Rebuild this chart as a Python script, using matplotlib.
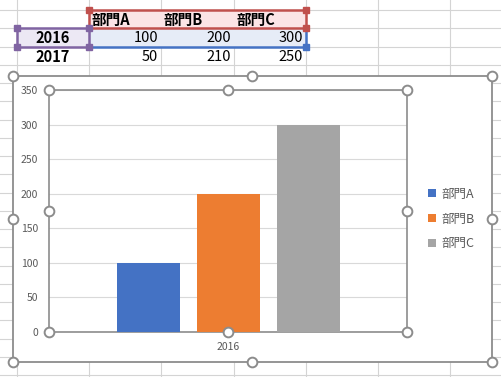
import matplotlib
matplotlib.use('Agg')
import matplotlib.pyplot as plt
from matplotlib.patches import Rectangle

plt.rcParams['font.family'] = ['Noto Sans CJK JP', 'DejaVu Sans']

departments = ['部門A', '部門B', '部門C']
years = ['2016', '2017']
values_2016 = [100, 200, 300]
values_2017 = [50, 210, 250]
bar_colors = ['#4472C4', '#ED7D31', '#A5A5A5']
y_ticks = [0, 50, 100, 150, 200, 250, 300, 350]

W, H = 501, 377
fig = plt.figure(figsize=(W / 100, H / 100), dpi=100)

# ---------- spreadsheet background ----------
bg = fig.add_axes([0, 0, 1, 1])
bg.set_xlim(0, W)
bg.set_ylim(H, 0)
bg.axis('off')

col_x = [17, 89, 161, 234, 306, 378, 450]
row_y = [10 + 18.25 * k for k in range(21)]
grid_c = '#D4D4D4'
for x in col_x:
    bg.plot([x, x], [0, H], color=grid_c, lw=0.8, zorder=1)
for y in row_y:
    bg.plot([0, W], [y, y], color=grid_c, lw=0.8, zorder=1)

# selection fills
bg.add_patch(Rectangle((89, 9.5), 217, 18.5, facecolor='#FBE4E6', edgecolor='none', zorder=2))
bg.add_patch(Rectangle((89, 28), 217, 19, facecolor='#E6ECF7', edgecolor='none', zorder=2))
bg.add_patch(Rectangle((17, 28), 72, 19, facecolor='#ECE8F4', edgecolor='none', zorder=2))

red_c, blue_c, pur_c = '#C0504D', '#4472C4', '#8064A2'
bg.add_patch(Rectangle((89, 9.5), 217, 18.5, facecolor='none', edgecolor=red_c, lw=1.8, zorder=3))
bg.plot([89, 306], [47, 47], color=blue_c, lw=1.8, zorder=3)
bg.plot([306, 306], [28, 47], color=blue_c, lw=1.8, zorder=3)
bg.add_patch(Rectangle((17, 28), 72, 19, facecolor='none', edgecolor=pur_c, lw=1.8, zorder=4))

for x, y in [(89, 9.5), (306, 9.5), (306, 28)]:
    bg.plot(x, y, marker='s', ms=4, color=red_c, zorder=5)
bg.plot(306, 47, marker='s', ms=4, color=blue_c, zorder=5)
for x, y in [(17, 28), (89, 28), (17, 47), (89, 47)]:
    bg.plot(x, y, marker='s', ms=4, color=pur_c, zorder=5)

# table text
txt_c = '#000000'
for i, d in enumerate(departments):
    bg.text(col_x[i + 1] + 3, 19.5, d, ha='left', va='center', fontsize=10.5,
            fontweight='bold', color=txt_c, zorder=6)
row_centers = [38, 57]
for yr, yc in zip(years, row_centers):
    bg.text(53, yc, yr, ha='center', va='center', fontsize=10.5,
            fontweight='bold', color=txt_c, zorder=6)
for vals, yc in zip([values_2016, values_2017], row_centers):
    for i, v in enumerate(vals):
        bg.text(col_x[i + 2] - 3, yc, str(v), ha='right', va='center',
                fontsize=10.5, color=txt_c, zorder=6)

# chart area
chart_edge = '#8C8C8C'
bg.add_patch(Rectangle((13, 76), 479, 286, facecolor='white', edgecolor=chart_edge,
                       lw=1.3, zorder=7))

# ---------- chart plot area ----------
px0, py0, px1, py1 = 49, 90, 407, 332
ax = fig.add_axes([px0 / W, (H - py1) / H, (px1 - px0) / W, (py1 - py0) / H], zorder=8)
ax.set_facecolor('none')
offsets = [-0.222, 0.002, 0.225]
width = 0.176
for i, d in enumerate(departments):
    ax.bar([offsets[i]], [values_2016[i]], width=width, color=bar_colors[i],
           label=d, zorder=3)
ax.set_xlim(-0.5, 0.5)
ax.set_ylim(0, 350)
ax.set_yticks(y_ticks)
ax.set_xticks([0])
ax.set_xticklabels([years[0]])
ax.yaxis.grid(True, color='#D9D9D9', lw=0.8, zorder=0)
ax.set_axisbelow(True)
ax.tick_params(axis='both', length=0, labelsize=7.5, labelcolor='#595959')
ax.tick_params(axis='y', pad=8)
ax.tick_params(axis='x', pad=7)
for s in ax.spines.values():
    s.set_color(chart_edge)
    s.set_linewidth(1.2)

ax.legend(loc='center left', bbox_to_anchor=(428 / W, (H - 219) / H),
          bbox_transform=fig.transFigure, frameon=False, fontsize=9,
          labelcolor='#595959', handlelength=0.65, handleheight=0.65,
          handletextpad=0.4, labelspacing=0.95, borderpad=0, borderaxespad=0)

# ---------- selection handles overlay ----------
ov = fig.add_axes([0, 0, 1, 1], zorder=10)
ov.set_facecolor('none')
ov.set_xlim(0, W)
ov.set_ylim(H, 0)
ov.axis('off')
outer = [(13, 76), (252, 76), (492, 76), (13, 219), (492, 219),
         (13, 362), (252, 362), (492, 362)]
inner = [(px0, py0), (228, py0), (px1, py0), (px0, 211), (px1, 211),
         (px0, py1), (228, py1), (px1, py1)]
for x, y in outer + inner:
    ov.plot(x, y, marker='o', ms=7, mfc='white', mec=chart_edge, mew=1.4)

fig.savefig('out.png', dpi=100)
